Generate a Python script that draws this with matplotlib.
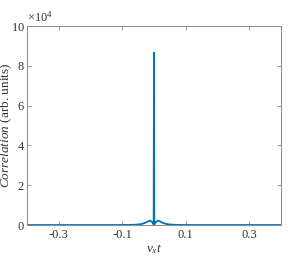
import matplotlib
matplotlib.use("Agg")
import matplotlib.pyplot as plt
from matplotlib.ticker import ScalarFormatter

plt.rcParams['font.family'] = ['Liberation Serif', 'DejaVu Serif']
plt.rcParams['mathtext.fontset'] = 'custom'
plt.rcParams['mathtext.rm'] = 'Liberation Serif'
plt.rcParams['mathtext.it'] = 'Liberation Serif:italic'

# data
x_vals = [-0.4, -0.12, -0.08, -0.06, -0.045, -0.035, -0.025, -0.018, -0.012,
          -0.007, -0.003, -0.001, 0.0, 0.001, 0.003, 0.007, 0.012, 0.018,
          0.025, 0.035, 0.045, 0.06, 0.08, 0.12, 0.4]
corr_vals = [0, 0, 50, 150, 350, 700, 1300, 1900, 2200,
             1700, 800, 300, 86600, 300, 800, 1700, 2200, 1900,
             1300, 700, 350, 150, 50, 0, 0]
x_ticks = [-0.3, -0.1, 0.1, 0.3]
x_ticklabels = ['-0.3', '-0.1', '0.1', '0.3']
y_ticks = [0, 20000, 40000, 60000, 80000, 100000]

fig = plt.figure(figsize=(3.02, 2.66), dpi=100)
ax = fig.add_axes([0.0894, 0.154, 0.841, 0.748])
ax.plot(x_vals, corr_vals, color='#0072BD', lw=1.3)
ax.set_xlim(-0.4, 0.4)
ax.set_ylim(0, 100000)
ax.set_xticks(x_ticks)
ax.set_xticklabels(x_ticklabels)
ax.set_yticks(y_ticks)
fmt = ScalarFormatter(useMathText=True)
fmt.set_powerlimits((4, 4))
ax.yaxis.set_major_formatter(fmt)

spine_c = '#8a8a8a'
for s in ax.spines.values():
    s.set_color(spine_c)
    s.set_linewidth(0.7)
ax.tick_params(direction='in', length=3, width=0.6, color=spine_c,
               labelsize=9, labelcolor='#333333', top=True, right=True)
ax.tick_params(axis='y', pad=1.5)
ax.tick_params(axis='x', pad=3)
ax.yaxis.get_offset_text().set_fontsize(9)
ax.yaxis.get_offset_text().set_color('#333333')
ax.set_xlabel(r'$\nu_x t$', fontsize=9.5, color='#333333', labelpad=1)
fig.text(6.5 / 302, 1 - 125.5 / 266, r'$Correlation$ (arb. units)', fontsize=9.5,
         color='#333333', rotation=90, ha='center', va='center')
fig.savefig('out.png', dpi=100)
